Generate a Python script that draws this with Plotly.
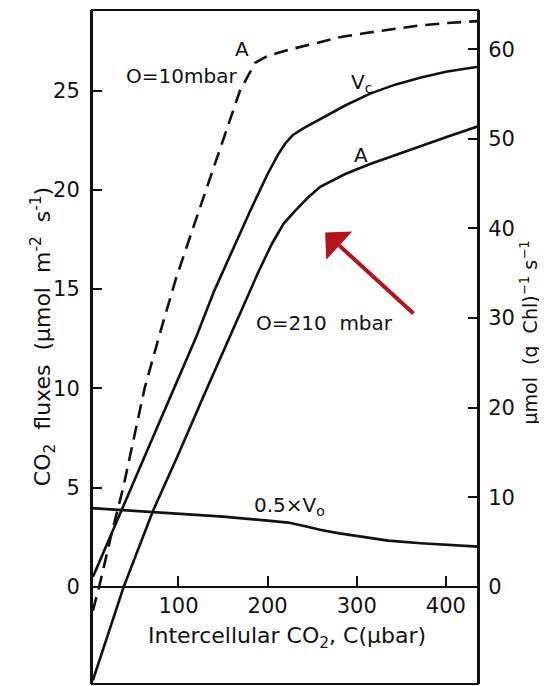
import plotly.graph_objects as go

# ---------------- data ----------------
# A at O = 10 mbar (dashed)
c_o10 = [4, 11, 24, 38, 50, 62, 80, 97, 115, 131, 150, 169, 180, 186, 200, 225, 255, 282, 310, 340, 370, 400, 436]
a_o10 = [-1.2, 0, 2.5, 5.0, 7.5, 10.0, 12.9, 15.5, 17.9, 20.0, 22.5, 25.0, 25.9, 26.4, 26.75, 27.07, 27.4, 27.7, 27.9, 28.1, 28.28, 28.4, 28.5]

# Vc at O = 210 mbar
c_vc = [4, 35, 47, 70, 95, 120, 140, 160, 180, 200, 212, 220, 228, 240, 259, 287, 315, 343, 371, 400, 436]
vc = [0.5, 3.7, 5.0, 7.4, 10.0, 12.6, 14.9, 16.9, 18.9, 20.8, 21.8, 22.35, 22.75, 23.1, 23.55, 24.25, 24.85, 25.3, 25.65, 25.95, 26.2]

# A at O = 210 mbar
c_a = [4, 38.5, 71, 77, 100, 130, 160, 190, 205, 218, 230, 245, 259, 287, 315, 343, 371, 400, 436]
a_210 = [-4.7, 0, 3.79, 4.38, 6.7, 9.8, 12.85, 15.9, 17.3, 18.3, 18.9, 19.6, 20.15, 20.8, 21.3, 21.75, 22.2, 22.65, 23.2]

# 0.5 x Vo
c_vo = [3, 73, 150, 200, 223, 241, 260, 279, 300, 316, 335, 372, 410, 436]
half_vo = [3.97, 3.76, 3.54, 3.34, 3.24, 3.07, 2.87, 2.71, 2.57, 2.45, 2.33, 2.20, 2.10, 2.03]

left_ticks = [0, 5, 10, 15, 20, 25]
right_ticks = [0, 10, 20, 30, 40, 50, 60]
x_ticks = [100, 200, 300, 400]

X_RANGE = [3, 436]
Y_RANGE = [-4.89, 29.06]
RIGHT_FACTOR = 2.215

FONT = "DejaVu Sans"
BLACK = "#111111"
RED = "#b5121b"

fig = go.Figure()
fig.add_trace(go.Scatter(x=c_o10, y=a_o10, mode="lines",
                         line=dict(color=BLACK, width=2.6, dash="14px,8px")))
fig.add_trace(go.Scatter(x=c_vc, y=vc, mode="lines", line=dict(color=BLACK, width=2.6)))
fig.add_trace(go.Scatter(x=c_a, y=a_210, mode="lines", line=dict(color=BLACK, width=2.6)))
fig.add_trace(go.Scatter(x=c_vo, y=half_vo, mode="lines", line=dict(color=BLACK, width=2.6)))
# same series expressed on the right-hand scale (invisible, keeps the right axis alive)
fig.add_trace(go.Scatter(x=c_vo, y=[v * RIGHT_FACTOR for v in half_vo], yaxis="y2",
                         mode="lines", line=dict(width=0), opacity=0, hoverinfo="skip"))

zero_pos = (0 - Y_RANGE[0]) / (Y_RANGE[1] - Y_RANGE[0])

axis_common = dict(showgrid=False, zeroline=False, ticks="inside", ticklen=10,
                   tickwidth=2, tickcolor=BLACK, linecolor=BLACK, linewidth=2,
                   tickfont=dict(family=FONT, size=21, color=BLACK))

# the page adds an 8px body margin, so the figure is sized to fit inside it
fig.update_layout(
    width=539, height=678,
    margin=dict(l=84, r=69, t=2, b=2),
    paper_bgcolor="white", plot_bgcolor="white",
    showlegend=False,
    font=dict(family=FONT, size=20, color=BLACK),
    xaxis=dict(range=X_RANGE, anchor="free", position=zero_pos, showline=True,
               tickvals=x_ticks, **axis_common),
    yaxis=dict(range=Y_RANGE, showline=True, tickvals=left_ticks,
               ticklabelstandoff=6, **axis_common),
    yaxis2=dict(range=[Y_RANGE[0] * RIGHT_FACTOR, Y_RANGE[1] * RIGHT_FACTOR],
                overlaying="y", side="right", showline=True, tickvals=right_ticks,
                ticklabelstandoff=4, **axis_common),
    shapes=[dict(type="rect", xref="paper", yref="paper", x0=0, y0=0, x1=1, y1=1,
                 line=dict(color=BLACK, width=2))],
)

ann = []
def txt(x, y, t, size=20):
    ann.append(dict(x=x, y=y, xref="x", yref="y", text=t, showarrow=False,
                    font=dict(family=FONT, size=size, color=BLACK),
                    xanchor="center", yanchor="middle"))

txt(171, 27.1, "A")
txt(103, 25.75, "O=10mbar")
txt(305, 25.4, "V<sub>c</sub>")
txt(305, 21.77, "A")
txt(264, 13.3, "O=210  mbar")
txt(225, 4.08, "0.5×V<sub>o</sub>")

# red arrow
ann.append(dict(x=264.5, y=17.85, ax=365.3, ay=13.7, xref="x", yref="y",
                axref="x", ayref="y", text="", showarrow=True, arrowhead=1,
                arrowsize=1.6, arrowwidth=4, arrowcolor=RED))

# axis titles
ann.append(dict(x=0.505, y=0.0697, xref="paper", yref="paper",
                text="Intercellular CO<sub>2</sub>, C(µbar)", showarrow=False,
                font=dict(family=FONT, size=22, color=BLACK),
                xanchor="center", yanchor="middle"))
ann.append(dict(x=-0.127, y=0.516, xref="paper", yref="paper",
                text="CO<sub>2</sub>  fluxes  (µmol  m<sup>-2</sup>  s<sup>-1</sup>)",
                showarrow=False, textangle=-90,
                font=dict(family=FONT, size=22, color=BLACK),
                xanchor="center", yanchor="middle"))
ann.append(dict(x=1.133, y=0.522, xref="paper", yref="paper",
                text="µmol  (g  Chl)<sup>−1</sup> s<sup>−1</sup>",
                showarrow=False, textangle=-90,
                font=dict(family=FONT, size=19, color=BLACK),
                xanchor="center", yanchor="middle"))

fig.update_layout(annotations=ann)
fig.write_html("out.html")
